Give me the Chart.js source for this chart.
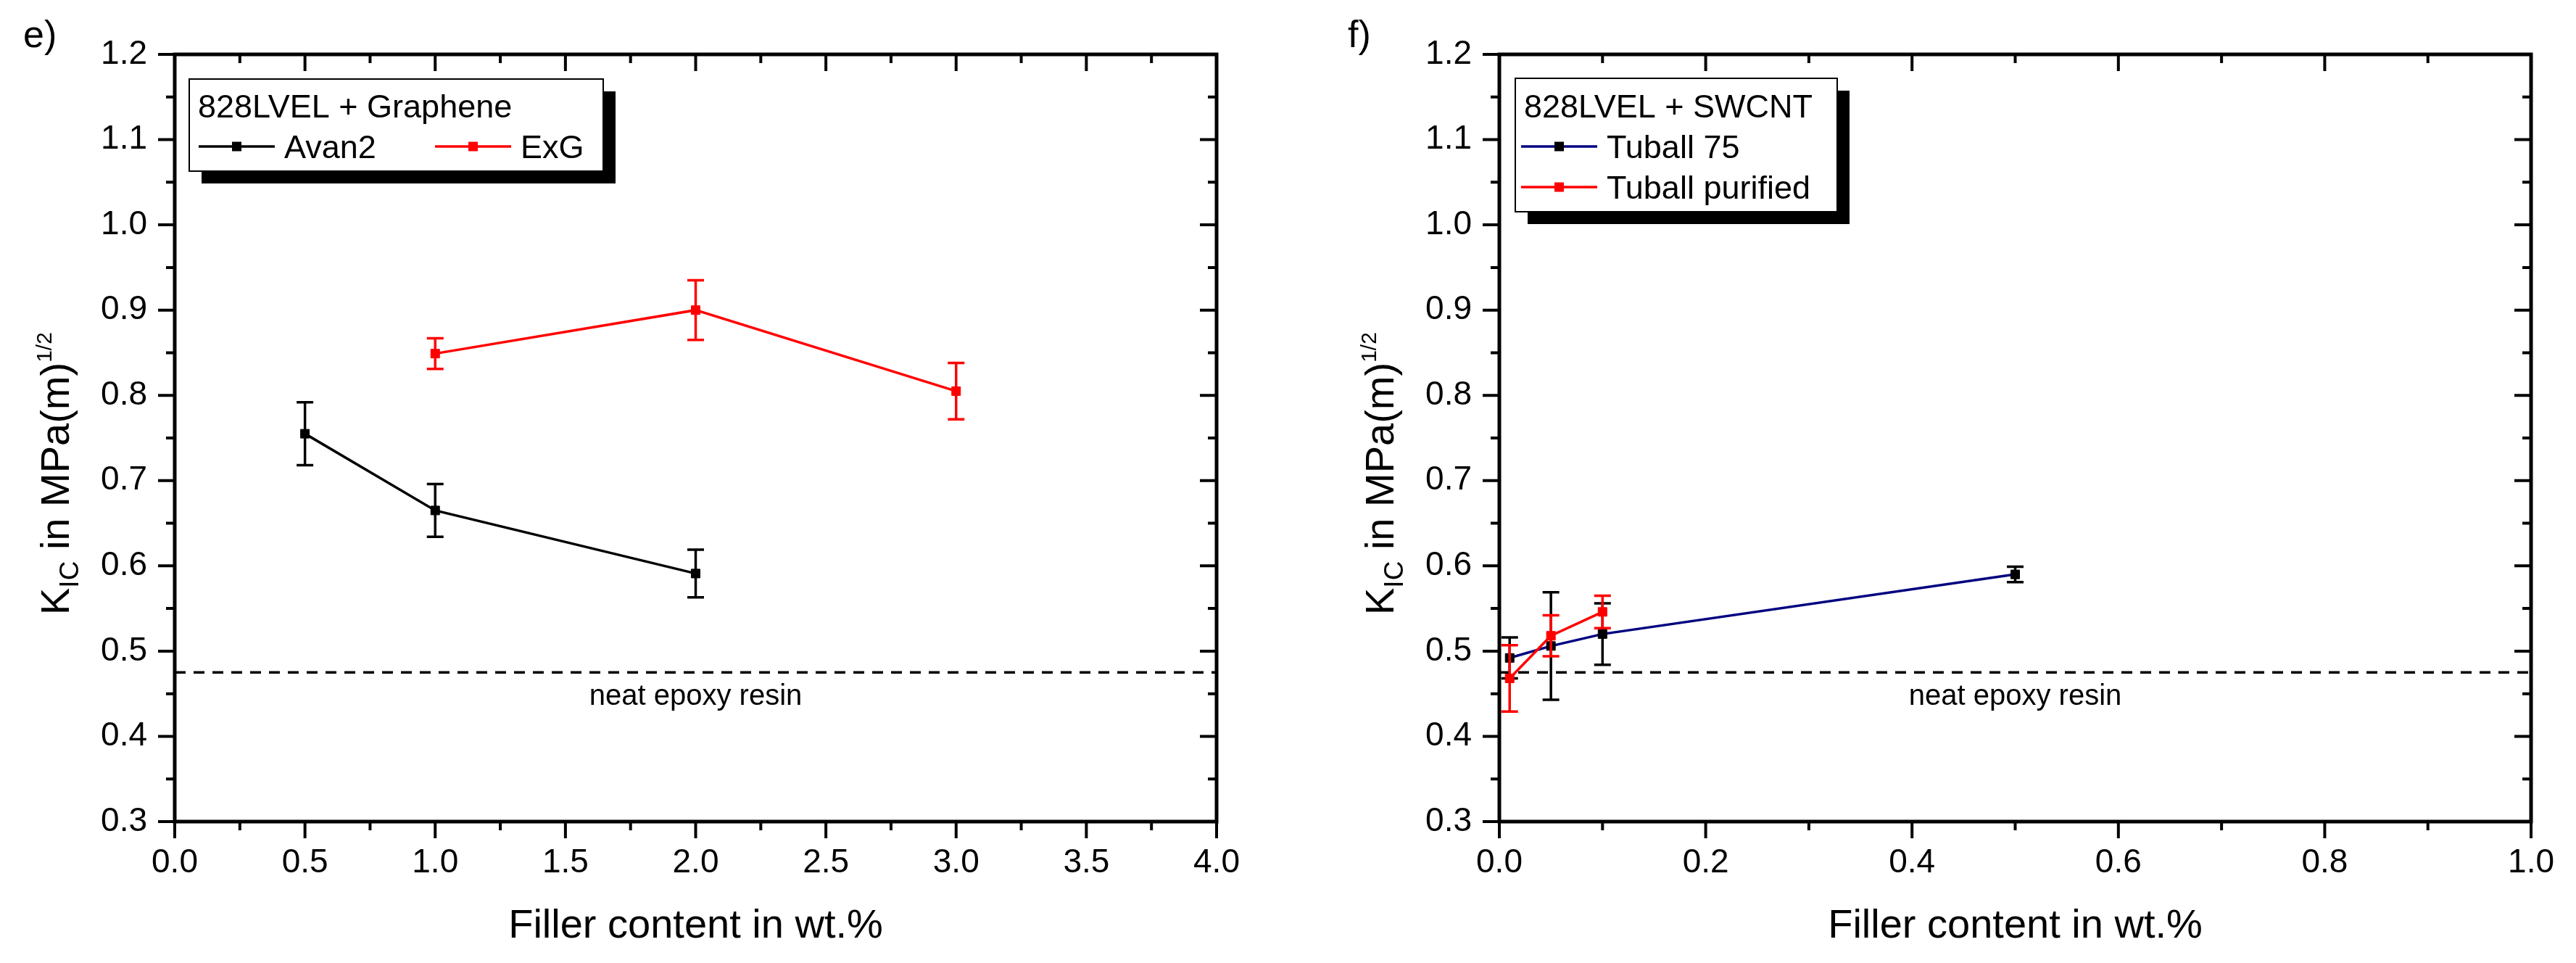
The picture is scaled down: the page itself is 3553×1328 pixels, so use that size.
<!DOCTYPE html>
<html lang="en">
<head>
    <meta charset="UTF-8" />
    <title>KIC vs filler content</title>
    <script src="https://cdn.jsdelivr.net/npm/chart.js"></script>
    <style>
        * { box-sizing: border-box; margin: 0; padding: 0; }
        body {
            width: 3553px;
            height: 1328px;
            background: #fff;
            position: relative;
            overflow: hidden;
        }
        canvas { position: absolute; top: 0; }
        #chartE { left: 0; }
        #chartF { left: 1827px; }
    </style>
</head>
<body>

<canvas id="chartE" width="1776" height="1328"></canvas>
<canvas id="chartF" width="1726" height="1328"></canvas>

<script>
    // panel e) 828LVEL + Graphene
    const avan2X = [0.5, 1.0, 2.0];
    const avan2Y = [0.755, 0.665, 0.591];
    const avan2Err = [0.037, 0.031, 0.028];
    const exgX = [1.0, 2.0, 3.0];
    const exgY = [0.849, 0.900, 0.805];
    const exgErr = [0.018, 0.035, 0.033];

    // panel f) 828LVEL + SWCNT
    const tuball75X = [0.01, 0.05, 0.1, 0.5];
    const tuball75Y = [0.492, 0.506, 0.520, 0.590];
    const tuball75Err = [0.024, 0.063, 0.036, 0.009];
    const purifiedX = [0.01, 0.05, 0.1];
    const purifiedY = [0.468, 0.518, 0.546];
    const purifiedErr = [0.039, 0.024, 0.019];

    // reference level
    const neatEpoxy = 0.475;

    // axes
    const yRange = [0.3, 1.2];
    const yStep = 0.1;
    const xRangeE = [0, 4];
    const xStepE = 0.5;
    const xRangeF = [0, 1];
    const xStepF = 0.2;

    const FONT = "'Liberation Sans', Arial, sans-serif";
    Chart.defaults.font.family = FONT;
    Chart.defaults.color = '#000';

    const pts = (xs, ys) => xs.map((x, i) => ({ x: x, y: ys[i] }));

    function series(label, xs, ys, err, lineColor, markColor) {
        return {
            label: label,
            data: pts(xs, ys),
            err: err,
            errColor: markColor,
            borderColor: lineColor,
            borderWidth: 3.5,
            pointStyle: 'rect',
            pointRadius: 8.5,
            pointBorderWidth: 1,
            pointBackgroundColor: markColor,
            pointBorderColor: markColor,
            tension: 0,
            fill: false
        };
    }

    function neatLine(range) {
        return {
            label: 'neat epoxy resin',
            data: pts(range, [neatEpoxy, neatEpoxy]),
            borderColor: '#000',
            borderWidth: 3.5,
            borderDash: [15, 11],
            pointRadius: 0,
            fill: false
        };
    }

    function setFont(ctx, size) {
        ctx.font = size + 'px ' + FONT;
    }

    // error bars, frame with Origin-like ticks, legend box and labels
    const decor = {
        id: 'decor',
        afterDatasetDraw(chart, args) {
            const ds = chart.data.datasets[args.index];
            if (!ds.err) return;
            const { ctx, scales: { x, y } } = chart;
            ctx.save();
            ctx.strokeStyle = ds.errColor;
            ctx.lineWidth = 3.5;
            ds.data.forEach((p, i) => {
                const px = x.getPixelForValue(p.x);
                const top = y.getPixelForValue(p.y + ds.err[i]);
                const bot = y.getPixelForValue(p.y - ds.err[i]);
                ctx.beginPath();
                ctx.moveTo(px, top); ctx.lineTo(px, bot);
                ctx.moveTo(px - 11.5, top); ctx.lineTo(px + 11.5, top);
                ctx.moveTo(px - 11.5, bot); ctx.lineTo(px + 11.5, bot);
                ctx.stroke();
            });
            ctx.restore();
        },
        afterDraw(chart, args, opts) {
            const { ctx, chartArea: a, scales: { x, y } } = chart;
            ctx.save();
            ctx.strokeStyle = '#000';
            ctx.fillStyle = '#000';

            // frame
            ctx.lineWidth = 5;
            ctx.lineCap = 'square';
            ctx.strokeRect(a.left, a.top, a.right - a.left, a.bottom - a.top);

            // major + minor ticks: outward on left/bottom, inward on top/right
            ctx.lineCap = 'butt';
            ctx.lineWidth = 4;
            const withMinor = (scale) => {
                const out = [];
                scale.ticks.forEach((t, i) => {
                    out.push([t.value, 23]);
                    if (i < scale.ticks.length - 1) out.push([(t.value + scale.ticks[i + 1].value) / 2, 12]);
                });
                return out;
            };
            ctx.beginPath();
            withMinor(x).forEach(([v, len]) => {
                const px = x.getPixelForValue(v);
                ctx.moveTo(px, a.bottom); ctx.lineTo(px, a.bottom + len);
                ctx.moveTo(px, a.top); ctx.lineTo(px, a.top + len);
            });
            withMinor(y).forEach(([v, len]) => {
                const py = y.getPixelForValue(v);
                ctx.moveTo(a.left, py); ctx.lineTo(a.left - len, py);
                ctx.moveTo(a.right, py); ctx.lineTo(a.right - len, py);
            });
            ctx.stroke();

            // panel letter
            setFont(ctx, 52);
            ctx.textAlign = 'left';
            ctx.textBaseline = 'alphabetic';
            ctx.fillText(opts.panel, 32, 65);

            // x title
            setFont(ctx, 56);
            ctx.textAlign = 'center';
            ctx.fillText('Filler content in wt.%', (a.left + a.right) / 2, 1293);

            // y title with sub/superscript
            ctx.save();
            ctx.translate(95, 848);
            ctx.rotate(-Math.PI / 2);
            ctx.textAlign = 'left';
            let cx = 0;
            const part = (txt, size, dy) => {
                setFont(ctx, size);
                ctx.fillText(txt, cx, dy);
                cx += ctx.measureText(txt).width;
            };
            part('K', 56, 0);
            part('IC', 37, 13);
            part(' in MPa(m)', 56, 0);
            part('1/2', 30, -24);
            ctx.restore();

            // neat epoxy label
            setFont(ctx, 40);
            ctx.textAlign = 'center';
            ctx.fillText('neat epoxy resin', x.getPixelForValue(opts.neatAt[0]), y.getPixelForValue(opts.neatAt[1]));

            // legend with drop shadow
            const b = opts.box;
            ctx.fillRect(b[0] + 17, b[1] + 17, b[2], b[3]);
            ctx.fillStyle = '#fff';
            ctx.fillRect(b[0], b[1], b[2], b[3]);
            ctx.lineWidth = 2;
            ctx.strokeRect(b[0], b[1], b[2], b[3]);
            ctx.fillStyle = '#000';
            setFont(ctx, 45);
            ctx.textAlign = 'left';
            ctx.fillText(opts.legendTitle, b[0] + 12, 162);
            opts.items.forEach(it => {
                ctx.strokeStyle = it.line;
                ctx.lineWidth = 3.5;
                ctx.beginPath();
                ctx.moveTo(it.x, it.y); ctx.lineTo(it.x + 105, it.y);
                ctx.stroke();
                ctx.fillStyle = it.mark;
                ctx.fillRect(it.x + 46, it.y - 6.5, 13, 13);
                ctx.fillStyle = '#000';
                ctx.fillText(it.label, it.x + 118, it.y + 16);
            });
            ctx.restore();
        }
    };

    function makeChart(id, datasets, xRange, xStep, rightPad, plugOpts) {
        return new Chart(document.getElementById(id), {
            type: 'line',
            data: { datasets: datasets },
            options: {
                responsive: false,
                animation: false,
                devicePixelRatio: 1,
                layout: { padding: { top: 75, right: rightPad, left: 0, bottom: 0 } },
                scales: {
                    x: {
                        type: 'linear',
                        min: xRange[0],
                        max: xRange[1],
                        afterFit(s) { s.height = 195; },
                        grid: { display: false, drawTicks: false },
                        border: { display: false },
                        ticks: {
                            stepSize: xStep,
                            padding: 30,
                            maxRotation: 0,
                            autoSkip: false,
                            font: { size: 46 },
                            callback: v => v.toFixed(1)
                        }
                    },
                    y: {
                        min: yRange[0],
                        max: yRange[1],
                        afterFit(s) { s.width = 241; },
                        grid: { display: false, drawTicks: false },
                        border: { display: false },
                        ticks: {
                            stepSize: yStep,
                            padding: 38,
                            autoSkip: false,
                            font: { size: 46 },
                            callback: v => v.toFixed(1)
                        }
                    }
                },
                plugins: {
                    legend: { display: false },
                    tooltip: { enabled: false },
                    decor: plugOpts
                }
            },
            plugins: [decor]
        });
    }

    makeChart('chartE', [
        series('ExG', exgX, exgY, exgErr, '#ff0000', '#ff0000'),
        series('Avan2', avan2X, avan2Y, avan2Err, '#000000', '#000000'),
        neatLine(xRangeE)
    ], xRangeE, xStepE, 98, {
        panel: 'e)',
        neatAt: [2.0, 0.437],
        box: [261, 109, 571, 127],
        legendTitle: '828LVEL + Graphene',
        items: [
            { label: 'Avan2', line: '#000000', mark: '#000000', x: 274, y: 202 },
            { label: 'ExG', line: '#ff0000', mark: '#ff0000', x: 600, y: 202 }
        ]
    });

    makeChart('chartF', [
        series('Tuball purified', purifiedX, purifiedY, purifiedErr, '#ff0000', '#ff0000'),
        series('Tuball 75', tuball75X, tuball75Y, tuball75Err, '#000080', '#000000'),
        neatLine(xRangeF)
    ], xRangeF, xStepF, 50, {
        panel: 'f)',
        neatAt: [0.5, 0.437],
        box: [263, 108, 444, 184],
        legendTitle: '828LVEL + SWCNT',
        items: [
            { label: 'Tuball 75', line: '#000080', mark: '#000000', x: 271, y: 202 },
            { label: 'Tuball purified', line: '#ff0000', mark: '#ff0000', x: 271, y: 258 }
        ]
    });
</script>

</body>
</html>
